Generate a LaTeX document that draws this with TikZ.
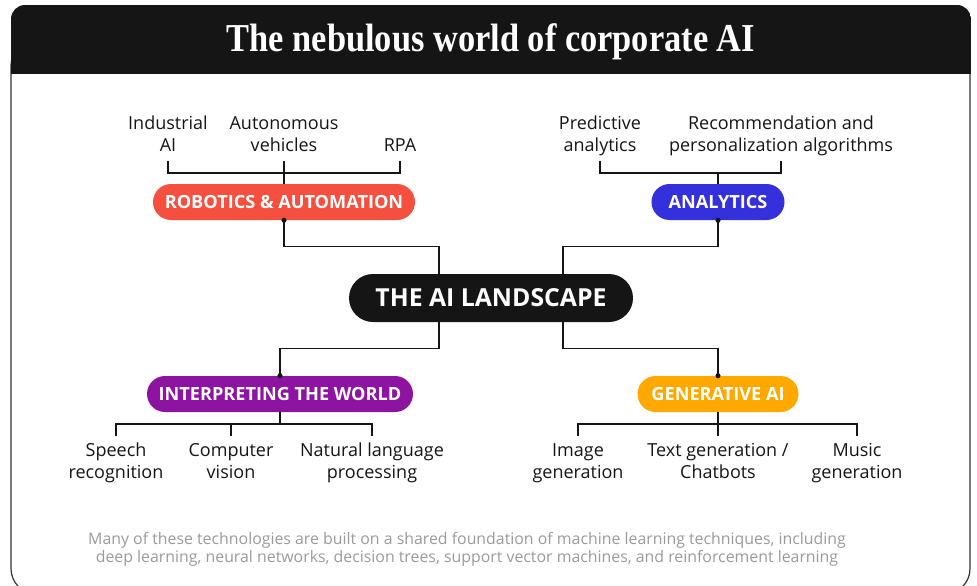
\documentclass[tikz,border=0pt]{standalone}
\usepackage{fontspec}
\setmainfont{Open Sans}
\newfontfamily\titlefont{Liberation Serif}
\usetikzlibrary{calc}

\definecolor{ink}{HTML}{151515}
\definecolor{robored}{HTML}{F5503F}
\definecolor{anablue}{HTML}{3430DC}
\definecolor{intpurple}{HTML}{8C14A0}
\definecolor{genorange}{HTML}{FFA800}
\definecolor{notegray}{HTML}{9A9A9A}
\definecolor{framegray}{HTML}{333333}

\tikzset{
  conn/.style={draw=ink, line width=1.1pt},
  pill/.style={fill=#1, text=white, rounded corners=13.5pt, minimum height=27pt,
    inner sep=0pt, font={\fontsize{13.6}{16}\selectfont\bfseries}},
  hubpill/.style={fill=ink, text=white, rounded corners=18pt, minimum height=36pt,
    minimum width=213pt, inner sep=0pt, font={\fontsize{18.6}{22}\selectfont\bfseries}},
  topitem/.style={align=center, anchor=south, inner sep=0pt, text depth=0pt,
    text=ink, font={\fontsize{13.5}{16.5}\selectfont}},
  botitem/.style={align=center, anchor=north, inner sep=0pt,
    text=ink, font={\fontsize{13.5}{16.5}\selectfont}},
  joint/.style={fill=ink},
}

\begin{document}
\begin{tikzpicture}[x=0.75pt, y=-0.75pt]
\useasboundingbox (0,0) rectangle (977,585);

% outer card and dark title band
\draw[framegray, line width=0.9pt, rounded corners=19pt] (11,40) rectangle (970,594);
\begin{scope}
  \clip[rounded corners=10.5pt] (11,5) rectangle (971,120);
  \fill[ink] (11,5) rectangle (971,74);
\end{scope}
\node[text=white, font={\titlefont\bfseries\fontsize{25.8}{28}\selectfont}] (title) at (491,42)
  {\scalebox{1}[1.15]{The nebulous world of corporate AI}};

% central hub and the four branches
\node[hubpill] (hub) at (491,298) {THE AI LANDSCAPE};
\node[pill=robored, minimum width=196.5pt] (rob) at (284,202) {ROBOTICS \& AUTOMATION};
\node[pill=anablue, minimum width=99.75pt] (ana) at (718,202) {ANALYTICS};
\node[pill=intpurple, minimum width=199.5pt] (int) at (280,394) {INTERPRETING THE WORLD};
\node[pill=genorange, minimum width=120.75pt] (gen) at (718,394) {GENERATIVE AI};

% hub to branches
\draw[conn] ($(hub.north)+(-52,0)$) -- ++(0,-27) -| (rob.south);
\draw[conn] ($(hub.north)+(72,0)$) -- ++(0,-27) -| (ana.south);
\draw[conn] ($(hub.south)+(-52,0)$) -- ++(0,26) -| (int.north);
\draw[conn] ($(hub.south)+(72,0)$) -- ++(0,26) -| (gen.north);
\fill[joint] (rob.south) circle (1.9pt);
\fill[joint] (ana.south) circle (1.9pt);
\fill[joint] (int.north) circle (1.9pt);
\fill[joint] (gen.north) circle (1.9pt);

% robotics & automation leaves
\node[topitem] (ind) at (168,151.5) {Industrial\\AI};
\node[topitem] (auto) at (284,151.5) {Autonomous\\vehicles};
\node[topitem] (rpa) at (400,151.5) {RPA};
\draw[conn] ($(ind.south)+(0,9.5)$) |- ($(rpa.south)+(0,21.5)$) -- ($(rpa.south)+(0,9.5)$);
\draw[conn] ($(auto.south)+(0,9.5)$) -- (rob.north);

% analytics leaves
\node[topitem] (pred) at (600,151.5) {Predictive\\analytics};
\node[topitem] (rec) at (781,151.5) {Recommendation and\\personalization algorithms};
\draw[conn] ($(pred.south)+(0,9.5)$) |- ($(rec.south)+(0,21.5)$) -- ($(rec.south)+(0,9.5)$);
\draw[conn] (ana.north) -- ++(0,-11);

% interpreting the world leaves
\node[botitem] (speech) at (116,443) {Speech\\recognition};
\node[botitem] (vision) at (231,443) {Computer\\vision};
\node[botitem] (nlp) at (372,443) {Natural language\\processing};
\draw[conn] ($(speech.north)+(0,-7)$) |- ($(nlp.north)+(0,-19)$) -- ($(nlp.north)+(0,-7)$);
\draw[conn] (int.south) -- ++(0,12);
\draw[conn] ($(vision.north)+(0,-7)$) -- ++(0,-12);

% generative ai leaves
\node[botitem] (image) at (578,443) {Image\\generation};
\node[botitem] (textgen) at (718,443) {Text generation /\\Chatbots};
\node[botitem] (music) at (857,443) {Music\\generation};
\draw[conn] ($(image.north)+(0,-7)$) |- ($(music.north)+(0,-19)$) -- ($(music.north)+(0,-7)$);
\draw[conn] (gen.south) -- ($(textgen.north)+(0,-7)$);

% footnote
\node[align=center, text=notegray, font={\fontsize{11.9}{13.5}\selectfont}] (note) at (467,549)
  {Many of these technologies are built on a shared foundation of machine learning techniques, including\\
   deep learning, neural networks, decision trees, support vector machines, and reinforcement learning};
\end{tikzpicture}
\end{document}
